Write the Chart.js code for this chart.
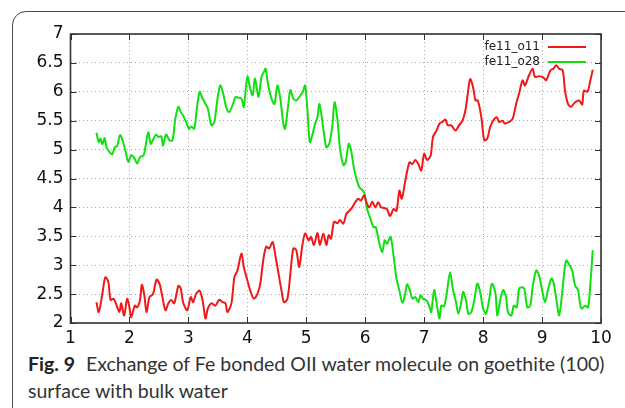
<!DOCTYPE html>
<html>
<head>
<meta charset="utf-8">
<script src="https://cdn.jsdelivr.net/npm/chart.js@4.4.1/dist/chart.umd.min.js"></script>
<style>
    html, body { margin: 0; padding: 0; background: #fff; }
    body { width: 625px; height: 408px; position: relative; overflow: hidden; }
    #frame {
        position: absolute; left: 12px; top: 11px; width: 660px; height: 440px;
        border: 1.5px solid #4a4a4a; border-radius: 14px; box-sizing: border-box;
    }
    #wrap { position: absolute; left: 0; top: 0; width: 625px; height: 350px; }
    #caption {
        position: absolute; left: 28px; top: 350px; width: 620px;
        font-family: Lato, "Open Sans", sans-serif; font-size: 19.5px; line-height: 27px;
        color: #333; white-space: nowrap;
    }
    #caption b { color: #222; font-weight: 700; margin-right: 6px; }
</style>
</head>
<body>
<div id="frame"></div>
<div id="wrap"><canvas id="chart"></canvas></div>
<div id="caption"><b>Fig. 9</b> Exchange of Fe bonded OII water molecule on goethite (100)<br>surface with bulk water</div>
<script>
const seriesNames = ['fe11_o11', 'fe11_o28'];
const xTicks = [1, 2, 3, 4, 5, 6, 7, 8, 9, 10];
const yTicks = [2, 2.5, 3, 3.5, 4, 4.5, 5, 5.5, 6, 6.5, 7];

// fe11_o11 (red)
const o11X = [1.44, 1.48, 1.54, 1.59, 1.64, 1.68, 1.73, 1.77, 1.83, 1.86, 1.91, 1.96, 2.00, 2.03, 2.09, 2.13, 2.18, 2.21, 2.25, 2.29,
    2.34, 2.40, 2.46, 2.51, 2.55, 2.61, 2.66, 2.71, 2.76, 2.83, 2.87, 2.91, 2.98, 3.04, 3.08, 3.13, 3.19, 3.24, 3.29, 3.33,
    3.39, 3.46, 3.52, 3.58, 3.63, 3.66, 3.73, 3.78, 3.83, 3.90, 3.94, 4.00, 4.05, 4.11, 4.17, 4.22, 4.27, 4.32, 4.37, 4.43,
    4.47, 4.53, 4.58, 4.62, 4.68, 4.73, 4.78, 4.83, 4.88, 4.93, 4.98, 5.04, 5.08, 5.13, 5.19, 5.23, 5.29, 5.34, 5.38, 5.42,
    5.47, 5.53, 5.57, 5.63, 5.68, 5.73, 5.78, 5.83, 5.88, 5.93, 5.98, 6.02, 6.07, 6.12, 6.17, 6.22, 6.27, 6.32, 6.37, 6.42,
    6.48, 6.53, 6.58, 6.62, 6.68, 6.75, 6.80, 6.85, 6.90, 6.95, 7.00, 7.05, 7.11, 7.15, 7.21, 7.26, 7.31, 7.36, 7.40, 7.46,
    7.53, 7.59, 7.65, 7.70, 7.74, 7.78, 7.83, 7.87, 7.91, 7.97, 8.02, 8.07, 8.12, 8.17, 8.23, 8.27, 8.33, 8.37, 8.44, 8.50,
    8.56, 8.61, 8.67, 8.71, 8.78, 8.84, 8.88, 8.95, 9.02, 9.07, 9.14, 9.19, 9.24, 9.29, 9.35, 9.39, 9.44, 9.49, 9.56, 9.63,
    9.68, 9.71, 9.77, 9.82, 9.86];
const o11Y = [2.36, 2.19, 2.50, 2.79, 2.72, 2.40, 2.42, 2.34, 2.19, 2.34, 2.13, 2.42, 2.27, 2.10, 2.30, 2.27, 2.40, 2.66, 2.50, 2.19,
    2.45, 2.50, 2.75, 2.68, 2.50, 2.22, 2.34, 2.40, 2.34, 2.64, 2.60, 2.36, 2.22, 2.45, 2.36, 2.50, 2.56, 2.40, 2.08, 2.25,
    2.34, 2.30, 2.40, 2.36, 2.34, 2.19, 2.34, 2.79, 2.90, 3.20, 2.97, 2.74, 2.56, 2.42, 2.50, 2.68, 3.09, 3.32, 3.29, 3.40,
    3.20, 2.85, 2.56, 2.36, 2.42, 2.85, 3.29, 3.26, 2.97, 3.32, 3.55, 3.43, 3.49, 3.35, 3.56, 3.35, 3.55, 3.35, 3.52, 3.46,
    3.75, 3.73, 3.78, 3.72, 3.89, 3.94, 4.00, 4.09, 4.15, 4.12, 4.21, 4.09, 4.00, 4.10, 4.00, 4.09, 4.00, 3.99, 3.97, 3.85,
    3.97, 3.94, 4.29, 4.15, 4.46, 4.78, 4.75, 4.82, 4.75, 4.64, 4.93, 4.82, 4.90, 5.22, 5.33, 5.45, 5.48, 5.52, 5.42, 5.42,
    5.33, 5.42, 5.50, 5.68, 5.97, 6.22, 6.08, 5.85, 5.85, 5.56, 5.16, 5.19, 5.39, 5.50, 5.56, 5.48, 5.50, 5.45, 5.48, 5.53,
    5.79, 5.97, 6.20, 6.11, 6.29, 6.40, 6.26, 6.27, 6.25, 6.20, 6.37, 6.40, 6.46, 6.40, 6.37, 6.02, 5.79, 5.74, 5.82, 5.85,
    5.78, 6.02, 6.00, 6.20, 6.38];

// fe11_o28 (green)
const o28X = [1.44, 1.48, 1.51, 1.54, 1.58, 1.61, 1.66, 1.71, 1.75, 1.79, 1.84, 1.88, 1.93, 1.98, 2.03, 2.08, 2.13, 2.18, 2.24, 2.27,
    2.32, 2.36, 2.40, 2.45, 2.49, 2.54, 2.57, 2.62, 2.68, 2.73, 2.78, 2.83, 2.87, 2.91, 2.96, 3.01, 3.05, 3.10, 3.14, 3.19,
    3.23, 3.29, 3.33, 3.39, 3.44, 3.49, 3.54, 3.59, 3.64, 3.69, 3.75, 3.80, 3.84, 3.90, 3.94, 4.00, 4.05, 4.09, 4.13, 4.19,
    4.24, 4.28, 4.31, 4.35, 4.41, 4.46, 4.51, 4.56, 4.61, 4.64, 4.69, 4.73, 4.78, 4.83, 4.88, 4.94, 4.98, 5.02, 5.06, 5.11,
    5.15, 5.19, 5.22, 5.25, 5.30, 5.34, 5.39, 5.44, 5.48, 5.53, 5.57, 5.63, 5.67, 5.72, 5.76, 5.81, 5.85, 5.90, 5.95, 5.99,
    6.03, 6.08, 6.14, 6.18, 6.24, 6.29, 6.33, 6.37, 6.43, 6.48, 6.53, 6.58, 6.63, 6.68, 6.71, 6.76, 6.80, 6.85, 6.90, 6.94,
    6.98, 7.04, 7.09, 7.12, 7.17, 7.22, 7.26, 7.29, 7.34, 7.39, 7.44, 7.49, 7.54, 7.58, 7.63, 7.66, 7.71, 7.75, 7.80, 7.85,
    7.90, 7.95, 8.00, 8.05, 8.10, 8.15, 8.21, 8.24, 8.29, 8.34, 8.39, 8.42, 8.48, 8.52, 8.57, 8.61, 8.66, 8.70, 8.75, 8.80,
    8.84, 8.90, 8.95, 9.00, 9.05, 9.10, 9.16, 9.20, 9.25, 9.29, 9.34, 9.38, 9.41, 9.45, 9.51, 9.56, 9.61, 9.65, 9.68, 9.73,
    9.78, 9.82, 9.86];
const o28Y = [5.29, 5.13, 5.19, 5.09, 5.20, 5.04, 4.96, 4.92, 5.04, 5.06, 5.25, 5.17, 4.99, 4.79, 4.90, 4.86, 4.76, 4.87, 4.90, 5.04,
    5.30, 5.10, 5.17, 5.26, 5.22, 5.23, 5.07, 5.26, 5.16, 5.16, 5.54, 5.74, 5.65, 5.59, 5.48, 5.36, 5.40, 5.36, 5.68, 6.00,
    5.91, 5.79, 5.71, 5.42, 5.48, 5.85, 6.11, 5.97, 5.74, 5.65, 5.77, 5.91, 5.90, 5.88, 5.74, 6.26, 6.05, 5.94, 6.23, 5.91,
    6.26, 6.34, 6.40, 6.14, 5.88, 5.79, 6.11, 5.88, 5.45, 5.36, 5.74, 6.03, 5.88, 5.85, 5.91, 6.00, 6.11, 5.68, 5.13, 5.28,
    5.45, 5.56, 5.79, 5.65, 5.28, 5.04, 5.10, 5.39, 5.82, 5.51, 5.04, 4.73, 4.79, 5.10, 4.99, 4.67, 4.50, 4.35, 4.30, 4.24,
    3.98, 3.83, 3.66, 3.66, 3.37, 3.23, 3.43, 3.37, 3.49, 3.17, 2.77, 2.56, 2.35, 2.51, 2.67, 2.56, 2.42, 2.45, 2.36, 2.48,
    2.42, 2.39, 2.28, 2.19, 2.57, 2.28, 2.08, 2.30, 2.29, 2.57, 2.88, 2.57, 2.36, 2.16, 2.36, 2.54, 2.39, 2.16, 2.19, 2.39,
    2.68, 2.54, 2.25, 2.16, 2.39, 2.68, 2.51, 2.13, 2.39, 2.57, 2.45, 2.19, 2.13, 2.30, 2.27, 2.59, 2.62, 2.59, 2.27, 2.30,
    2.62, 2.91, 2.82, 2.57, 2.36, 2.57, 2.77, 2.68, 2.36, 2.13, 2.51, 2.91, 3.08, 3.03, 2.91, 2.65, 2.57, 2.30, 2.25, 2.30,
    2.27, 2.68, 3.26];

const seriesColors = ['#f01818', '#10e010'];

function toPoints(xs, ys) {
    return xs.map((x, i) => ({ x: x, y: ys[i] }));
}

// gnuplot style: frame, inward ticks on all four sides, legend inside top right
const gnuplotFrame = {
    id: 'gnuplotFrame',
    afterDatasetsDraw(chart) {
        const { ctx, chartArea: a, scales } = chart;
        ctx.save();
        ctx.strokeStyle = '#333';
        ctx.lineWidth = 1;
        ctx.beginPath();
        xTicks.forEach(v => {
            const px = Math.round(scales.x.getPixelForValue(v)) + 0.5;
            ctx.moveTo(px, a.bottom); ctx.lineTo(px, a.bottom - 6);
            ctx.moveTo(px, a.top); ctx.lineTo(px, a.top + 6);
        });
        yTicks.forEach(v => {
            const py = Math.round(scales.y.getPixelForValue(v)) + 0.5;
            ctx.moveTo(a.left, py); ctx.lineTo(a.left + 6, py);
            ctx.moveTo(a.right, py); ctx.lineTo(a.right - 6, py);
        });
        ctx.stroke();
        ctx.lineWidth = 1.6;
        ctx.strokeRect(a.left, a.top, a.right - a.left, a.bottom - a.top);

        // legend
        ctx.font = '12px "DejaVu Sans"';
        ctx.textAlign = 'right';
        ctx.textBaseline = 'middle';
        chart.data.datasets.forEach((ds, i) => {
            const y = a.top + 13 + i * 15;
            ctx.fillStyle = '#222';
            ctx.fillText(ds.label, a.right - 61, y);
            ctx.strokeStyle = ds.borderColor;
            ctx.lineWidth = 2;
            ctx.beginPath();
            ctx.moveTo(a.right - 53, y);
            ctx.lineTo(a.right - 15, y);
            ctx.stroke();
        });
        ctx.restore();
    }
};

new Chart(document.getElementById('chart'), {
    type: 'line',
    data: {
        datasets: [{
            label: seriesNames[0],
            data: toPoints(o11X, o11Y),
            borderColor: seriesColors[0],
            borderWidth: 2,
            pointRadius: 0,
            tension: 0.3,
            fill: false
        }, {
            label: seriesNames[1],
            data: toPoints(o28X, o28Y),
            borderColor: seriesColors[1],
            borderWidth: 2,
            pointRadius: 0,
            tension: 0.3,
            fill: false
        }]
    },
    options: {
        responsive: true,
        maintainAspectRatio: false,
        animation: false,
        layout: { padding: { left: 0, right: 24, top: 34, bottom: 2 } },
        plugins: {
            legend: { display: false },
            tooltip: { enabled: false }
        },
        scales: {
            x: {
                type: 'linear',
                min: 1,
                max: 10,
                afterBuildTicks: s => { s.ticks = xTicks.map(v => ({ value: v })); },
                afterFit: s => { s.height = 25; },
                grid: { color: '#aaa', lineWidth: 1, drawTicks: false },
                border: { display: false, dash: [1, 3] },
                ticks: {
                    padding: 5,
                    color: '#111',
                    callback: v => String(v),
                    font: { family: 'DejaVu Sans', size: 17 }
                }
            },
            y: {
                min: 2,
                max: 7,
                afterBuildTicks: s => { s.ticks = yTicks.map(v => ({ value: v })); },
                afterFit: s => { s.width = 70.5; },
                grid: { color: '#aaa', lineWidth: 1, drawTicks: false },
                border: { display: false, dash: [1, 3] },
                ticks: {
                    padding: 7,
                    color: '#111',
                    callback: v => String(v),
                    font: { family: 'DejaVu Sans', size: 17 }
                }
            }
        }
    },
    plugins: [gnuplotFrame]
});
</script>
</body>
</html>
